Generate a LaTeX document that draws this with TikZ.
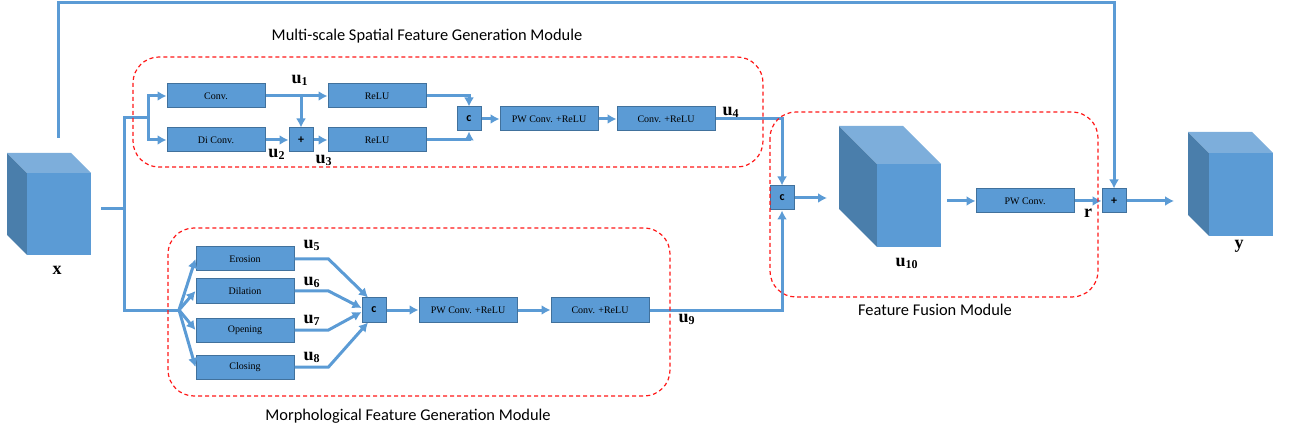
\documentclass[tikz,border=0pt]{standalone}
\usepackage{fontspec}
\setmainfont{Liberation Serif}
\newfontfamily\calibri{Carlito}
\usetikzlibrary{positioning}
\usetikzlibrary{arrows.meta}
\usetikzlibrary{calc}
\definecolor{boxblue}{HTML}{5B9BD5}
\definecolor{boxedge}{HTML}{41719C}
\definecolor{cubetop}{HTML}{7DAEDB}
\definecolor{cubeside}{HTML}{4A7EAB}
\tikzstyle{block}=[rectangle,fill=boxblue,draw=boxedge,line width=0.5pt,minimum width=49pt,minimum height=12pt,inner sep=0pt,font=\fontsize{5}{5}\selectfont]
\tikzstyle{smallblock}=[block,minimum width=12pt,minimum height=12pt,font=\calibri\bfseries\fontsize{6}{6}\selectfont]
\tikzstyle{link}=[draw=boxblue,line width=1.5pt]
\tikzstyle{edge}=[link,-{Latex[length=4.5pt,width=5pt]}]
\tikzstyle{module}=[draw=red!90,dash pattern=on 2pt off 1.5pt,line width=0.6pt,rounded corners=13pt]
\tikzstyle{vec}=[font=\fontsize{9}{9}\selectfont,inner sep=0pt]
\tikzstyle{title}=[font=\calibri\fontsize{8.2}{9}\selectfont,inner sep=0pt]

% front top-left corner, width, height, depth
\newcommand{\featcube}[5]{%
  \fill[cubeside] (#1-#5,#2-#5) -- (#1,#2) -- (#1,#2+#4) -- (#1-#5,#2+#4-#5) -- cycle;
  \fill[cubetop] (#1-#5,#2-#5) -- (#1+#3-#5,#2-#5) -- (#1+#3,#2) -- (#1,#2) -- cycle;
  \fill[boxblue] (#1,#2) rectangle (#1+#3,#2+#4);
}

\begin{document}
\begin{tikzpicture}[x=0.5pt,y=-0.5pt]
    \useasboundingbox (0,0) rectangle (1293,432);

    % input, fused and output features
    \featcube{27}{173}{64}{82}{20}
    \featcube{877}{164}{64}{83}{38}
    \featcube{1209}{153}{64}{83}{21}

    \foreach \pos/\name/\label in {{(216,96)/conv/Conv.}, {(216,140)/diconv/Di Conv.}, {(377,96)/relua/ReLU}, {(377,140)/relub/ReLU}, {(549,119)/pwa/PW Conv. +ReLU}, {(666,119)/cra/Conv. +ReLU}, {(1025,201)/pwf/PW Conv.}}
        \node[block] (\name) at \pos {\label};

    \foreach \pos/\name/\label in {{(245,259)/ero/Erosion}, {(245,291)/dil/Dilation}, {(245,330)/ope/Opening}, {(245,367)/clo/Closing}, {(468,310)/pwb/PW Conv. +ReLU}, {(600,310)/crb/Conv. +ReLU}}
        \node[block] (\name) at \pos {\label};

    \foreach \pos/\name/\label in {{(301,140)/plusa/+}, {(469,119)/ca/c}, {(782,198)/cb/c}, {(374,310)/cc/c}, {(1114,201)/plusb/+}}
        \node[smallblock] (\name) at \pos {\label};

    \coordinate (xout) at (101,209);
    \coordinate (trunk) at (124,209);
    \coordinate (split) at (148,118);
    \coordinate (fan) at (179,310);
    \coordinate (skip) at (58,138);
    \coordinate (top) at (58,3);
    \coordinate (uin) at (827,198);
    \coordinate (uout) at (947,201);
    \coordinate (yin) at (1174,201);
    \coordinate (ua) at (301,96);

    % multi-scale branch
    \draw[link] (xout) -- (trunk);
    \draw[link] (split) -| (trunk) |- (fan);
    \draw[edge] (split) |- (conv);
    \draw[edge] (split) |- (diconv);
    \draw[edge] (conv) -- (relua);
    \draw[edge] (ua) -- (plusa);
    \draw[edge] (diconv) -- (plusa);
    \draw[edge] (plusa) -- (relub);
    \draw[edge] (relua) -| (ca);
    \draw[edge] (relub) -| (ca);
    \draw[edge] (ca) -- (pwa);
    \draw[edge] (pwa) -- (cra);
    \draw[edge] (cra) -| (cb);

    % morphological branch
    \foreach \name in {ero,dil,ope,clo}
        \draw[edge] (fan) -- (\name.west);
    \draw[edge] (ero.east) -- ++(34,0) -- ([xshift=-3pt]cc.north);
    \draw[edge] (dil.east) -- ++(34,0) -- ([yshift=1pt]cc.west);
    \draw[edge] (ope.east) -- ++(34,0) -- ([yshift=-1pt]cc.west);
    \draw[edge] (clo.east) -- ++(34,0) -- ([xshift=-3pt]cc.south);
    \draw[edge] (cc) -- (pwb);
    \draw[edge] (pwb) -- (crb);
    \draw[edge] (crb) -| (cb);

    % fusion and residual
    \draw[edge] (cb) -- (uin);
    \draw[edge] (uout) -- (pwf);
    \draw[edge] (pwf) -- (plusb);
    \draw[edge] (skip) -- (top) -| (plusb);
    \draw[edge] (plusb) -- (yin);

    \foreach \pos/\name/\label in {{(300,80)/lua/\mathbf{u}_{\mathbf{1}}}, {(277,154)/lub/\mathbf{u}_{\mathbf{2}}}, {(324,160)/luc/\mathbf{u}_{\mathbf{3}}}, {(731,112)/lud/\mathbf{u}_{\mathbf{4}}}, {(312,245)/lue/\mathbf{u}_{\mathbf{5}}}, {(312,282)/luf/\mathbf{u}_{\mathbf{6}}}, {(312,320)/lug/\mathbf{u}_{\mathbf{7}}}, {(312,357)/luh/\mathbf{u}_{\mathbf{8}}}, {(687,319)/lui/\mathbf{u}_{\mathbf{9}}}, {(907,263)/luj/\mathbf{u}_{\mathbf{10}}}, {(1088,213)/lr/\mathbf{r}}, {(57,270)/lx/\mathbf{x}}, {(1239,246)/ly/\mathbf{y}}}
        \node[vec] (\name) at \pos {$\label$};

    % module frames
    \draw[module] (133,57) rectangle (763,167);
    \draw[module] (168,228) rectangle (670,396);
    \draw[module] (770,112) rectangle (1098,297);

    \node[title] (msfg) at (427,36) {Multi-scale Spatial Feature Generation Module};
    \node[title] (mfg) at (408,416) {Morphological Feature Generation Module};
    \node[title] (ffm) at (935,310) {Feature Fusion Module};

\end{tikzpicture}
\end{document}
